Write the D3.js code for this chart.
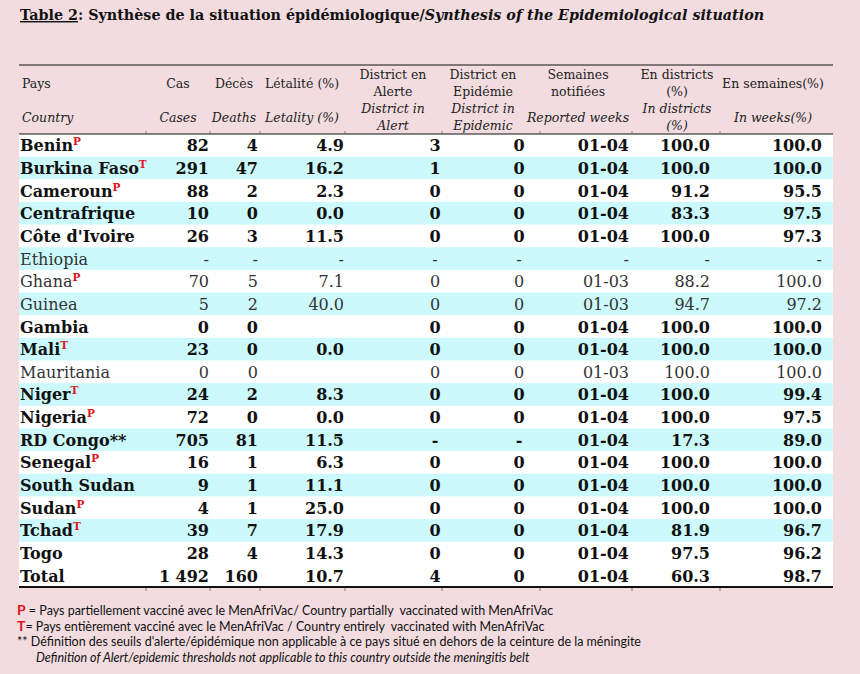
<!DOCTYPE html>
<html lang="fr">
<head>
<meta charset="UTF-8">
<title>Table 2</title>
<script src="https://cdn.jsdelivr.net/npm/d3@7"></script>
<style>
  body { margin: 0; background: #f2dce0; }
  svg { display: block; }
  .note { white-space: pre; }
</style>
</head>
<body>
<svg id="chart"></svg>
<script>
// ---- data ----
const countries = ["Benin", "Burkina Faso", "Cameroun", "Centrafrique", "Côte d'Ivoire", "Ethiopia",
  "Ghana", "Guinea", "Gambia", "Mali", "Mauritania", "Niger", "Nigeria", "RD Congo**", "Senegal",
  "South Sudan", "Sudan", "Tchad", "Togo", "Total"];
const vaccine = ["P", "T", "P", "", "", "", "P", "", "", "T", "", "T", "P", "", "P", "", "P", "T", "", ""];
const boldRow = [1, 1, 1, 1, 1, 0, 0, 0, 1, 1, 0, 1, 1, 1, 1, 1, 1, 1, 1, 1];
const cases = ["82", "291", "88", "10", "26", "-", "70", "5", "0", "23", "0", "24", "72", "705", "16", "9", "4", "39", "28", "1 492"];
const deaths = ["4", "47", "2", "0", "3", "-", "5", "2", "0", "0", "0", "2", "0", "81", "1", "1", "1", "7", "4", "160"];
const letality = ["4.9", "16.2", "2.3", "0.0", "11.5", "-", "7.1", "40.0", "", "0.0", "", "8.3", "0.0", "11.5", "6.3", "11.1", "25.0", "17.9", "14.3", "10.7"];
const alertDistricts = ["3", "1", "0", "0", "0", "-", "0", "0", "0", "0", "0", "0", "0", "-", "0", "0", "0", "0", "0", "4"];
const epidemicDistricts = ["0", "0", "0", "0", "0", "-", "0", "0", "0", "0", "0", "0", "0", "-", "0", "0", "0", "0", "0", "0"];
const reportedWeeks = ["01-04", "01-04", "01-04", "01-04", "01-04", "-", "01-03", "01-03", "01-04", "01-04", "01-03",
  "01-04", "01-04", "01-04", "01-04", "01-04", "01-04", "01-04", "01-04", "01-04"];
const inDistricts = ["100.0", "100.0", "91.2", "83.3", "100.0", "-", "88.2", "94.7", "100.0", "100.0", "100.0",
  "100.0", "100.0", "17.3", "100.0", "100.0", "100.0", "81.9", "97.5", "60.3"];
const inWeeks = ["100.0", "100.0", "95.5", "97.5", "97.3", "-", "100.0", "97.2", "100.0", "100.0", "100.0",
  "99.4", "97.5", "89.0", "100.0", "100.0", "100.0", "96.7", "96.2", "98.7"];

const headFr = [["Pays"], ["Cas"], ["Décès"], ["Létalité (%)"], ["District en", "Alerte"], ["District en", "Epidémie"],
  ["Semaines", "notifiées"], ["En districts", "(%)"], ["En semaines(%)"]];
const headEn = [["Country"], ["Cases"], ["Deaths"], ["Letality (%)"], ["District in", "Alert"], ["District in", "Epidemic"],
  ["Reported weeks"], ["In districts", "(%)"], ["In weeks(%)"]];

const notes = [
  { key: "P", text: " = Pays partiellement vacciné avec le MenAfriVac/ Country partially  vaccinated with MenAfriVac" },
  { key: "T", text: "= Pays entièrement vacciné avec le MenAfriVac / Country entirely  vaccinated with MenAfriVac" },
  { key: "", text: "** Définition des seuils d'alerte/épidémique non applicable à ce pays situé en dehors de la ceinture de la méningite" },
  { key: "", text: "Definition of Alert/epidemic thresholds not applicable to this country outside the meningitis belt", italic: true }
];

// ---- layout ----
const W = 860, H = 674;
const left = 19, right = 833;
const serif = "'DejaVu Serif', serif";
const sans = "Lato, 'Open Sans', sans-serif";

const svg = d3.select("#chart").attr("width", W).attr("height", H);
svg.append("rect").attr("width", W).attr("height", H).attr("fill", "#f2dce0");

const y = d3.scaleBand().domain(d3.range(countries.length)).range([134, 587]);

// column anchor x and text-anchor
const cols = [
  { values: cases, x: 209, anchor: "end", head: 178 },
  { values: deaths, x: 258, anchor: "end", head: 234 },
  { values: letality, x: 344, anchor: "end", head: 302 },
  { values: alertDistricts, x: 435, anchor: "middle", head: 393 },
  { values: epidemicDistricts, x: 519, anchor: "middle", head: 483 },
  { values: reportedWeeks, x: 629, anchor: "end", head: 578 },
  { values: inDistricts, x: 710, anchor: "end", head: 677 },
  { values: inWeeks, x: 822, anchor: "end", head: 773 }
];
const boundaries = [146, 210, 260, 345, 442, 540, 632, 720];

// title
const title = svg.append("text").attr("x", 20).attr("y", 20)
  .attr("font-family", serif).attr("font-size", 14.3).attr("font-weight", "bold").attr("fill", "#111");
title.append("tspan").attr("text-decoration", "underline").text("Table 2");
title.append("tspan").text(": Synthèse de la situation épidémiologique/");
title.append("tspan").attr("font-style", "italic").text("Synthesis of the Epidemiological situation");

// table body backgrounds
svg.append("rect").attr("x", left).attr("y", y(0)).attr("width", right - left)
  .attr("height", y.bandwidth() * countries.length).attr("fill", "#ffffff");
svg.selectAll("rect.band").data(d3.range(countries.length).filter(i => i % 2 === 1 && i < countries.length - 1))
  .join("rect").attr("class", "band")
  .attr("x", left).attr("y", i => y(i)).attr("width", right - left).attr("height", y.bandwidth())
  .attr("fill", "#ccfafc");

// header
const headG = svg.append("g").attr("font-family", serif).attr("font-size", 12.5).attr("fill", "#222");
function headerBlock(lines, x, anchor, yMid, italic) {
  const t = headG.append("text").attr("text-anchor", anchor).attr("font-style", italic ? "italic" : "normal");
  const step = 17;
  const y0 = yMid - (lines.length - 1) * step / 2;
  lines.forEach((l, k) => t.append("tspan").attr("x", x).attr("y", y0 + k * step + 4.5).text(l));
}
headerBlock(headFr[0], 22, "start", 83, false);
headerBlock(headEn[0], 22, "start", 117, true);
cols.forEach((c, i) => {
  headerBlock(headFr[i + 1], c.head, "middle", 83, false);
  headerBlock(headEn[i + 1], c.head, "middle", 117, true);
});

// rows
const rows = svg.selectAll("g.row").data(countries).join("g").attr("class", "row")
  .attr("transform", (d, i) => `translate(0,${y(i) + y.bandwidth() / 2 + 6})`)
  .attr("font-family", serif).attr("font-size", 16)
  .attr("font-weight", (d, i) => boldRow[i] ? "bold" : "normal")
  .attr("fill", (d, i) => boldRow[i] ? "#111" : "#333");

const names = rows.append("text").attr("x", 20);
names.append("tspan").text(d => d);
names.append("tspan").attr("dy", -6).attr("font-size", 10.5).attr("font-weight", "bold")
  .attr("fill", "#e0141c").text((d, i) => vaccine[i]);

cols.forEach(c => {
  rows.append("text").attr("x", c.x).attr("text-anchor", c.anchor).text((d, i) => c.values[i]);
});

// rules
const rule = (yy, w) => svg.append("line").attr("x1", left).attr("x2", right).attr("y1", yy).attr("y2", yy)
  .attr("stroke", "#111").attr("stroke-width", w);
rule(65, 1);
rule(134, 1);
rule(587, 2);
svg.selectAll("line.tick").data(boundaries).join("line").attr("class", "tick")
  .attr("x1", d => d).attr("x2", d => d).attr("y1", 588).attr("y2", 591)
  .attr("stroke", "#555").attr("stroke-width", 0.7);
svg.selectAll("line.tick2").data(boundaries).join("line").attr("class", "tick2")
  .attr("x1", d => d).attr("x2", d => d).attr("y1", 131).attr("y2", 134)
  .attr("stroke", "#555").attr("stroke-width", 0.7);

// footnotes
const noteG = svg.append("g").attr("font-family", sans).attr("font-size", 12.5).attr("fill", "#111");
notes.forEach((n, i) => {
  const t = noteG.append("text").attr("class", "note").attr("x", n.italic ? 36 : 17).attr("y", 615 + i * 15.7)
    .attr("font-style", n.italic ? "italic" : "normal");
  if (n.key) t.append("tspan").attr("fill", "#e0141c").attr("font-size", 14).attr("font-weight", "bold").text(n.key);
  t.append("tspan").text(n.text);
});
</script>
</body>
</html>
